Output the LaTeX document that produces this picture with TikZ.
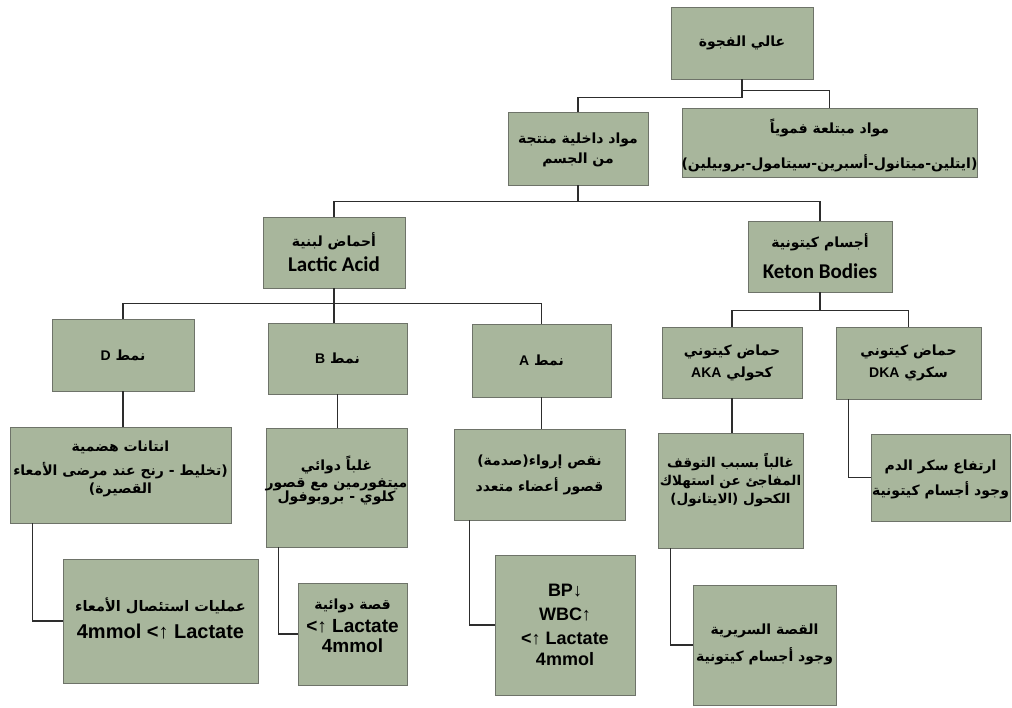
\documentclass[tikz,border=0pt]{standalone}
\usepackage{fontspec}
\setmainfont{Liberation Sans}
\newfontfamily\arabicfont[Script=Arabic]{DejaVu Sans}
\newfontfamily\calfont{Carlito}
\TeXXeTstate=1
% one right-to-left line of bold Arabic
\newcommand{\artxt}[1]{{\arabicfont\bfseries\beginR #1\endR}}
% embedded Latin run inside an Arabic line
\newcommand{\lat}[1]{\beginL{\normalfont\bfseries #1}\endL}
% bold Latin line at a given size
\newcommand{\latline}[2]{{\bfseries\fontsize{#1}{20}\selectfont #2}}
\definecolor{sage}{RGB}{168,182,156}
\definecolor{edge}{RGB}{110,115,105}
\definecolor{wire}{RGB}{45,45,45}
% box by its corner coordinates: [text options] name, x0, y0, x1, y1,
% downward text offset, text
\newcommand{\boxnode}[8][]{%
  \node[box, minimum width={#5-#3}, minimum height={#6-#4}] (#2)
    at ({(#3+#5)/2},{(#4+#6)/2}) {};
  \node[boxtext, #1] (#2-t) at ([shift={(0,#7)}]#2.center) {#8};}
\begin{document}
\begin{tikzpicture}[x=1pt, y=-1pt,
  box/.style={draw=edge, fill=sage, line width=0.7pt, inner sep=0pt},
  boxtext/.style={inner sep=0pt, align=center,
    font=\fontsize{14}{20}\selectfont},
  link/.style={draw=wire, line width=1.1pt}]
\useasboundingbox[fill=white] (0,0) rectangle (1012,707);

% level 0 and 1
\boxnode{top}{671}{7}{813}{79}{0}{\artxt{عالي الفجوة}}
\boxnode{oral}{682}{108}{977}{177}{3}{\artxt{مواد مبتلعة فموياً}\\[15pt]
  \artxt{(ايتلين-ميتانول-أسبرين-سيتامول-بروبيلين)}}
\boxnode{endo}{508}{112}{648}{185}{1}{\artxt{مواد داخلية منتجة}\\
  \artxt{من الجسم}}

% level 2
\boxnode{lactic}{263}{217}{405}{288}{0}{\artxt{أحماض لبنية}\\[5pt]
  {\calfont\bfseries\fontsize{21}{20}\selectfont Lactic Acid}}
\boxnode{keton}{748}{221}{892}{292}{0}{\artxt{أجسام كيتونية}\\[11pt]
  {\calfont\bfseries\fontsize{21}{20}\selectfont Keton Bodies}}

% level 3
\boxnode{pd}{52}{319}{194}{391}{0}{\artxt{نمط \lat{D}}}
\boxnode{pb}{268}{323}{407}{394}{0}{\artxt{نمط \lat{B}}}
\boxnode{pa}{472}{324}{611}{397}{0}{\artxt{نمط \lat{A}}}
\boxnode{aka}{662}{327}{802}{398}{0}{\artxt{حماض كيتوني}\\[2pt]
  \artxt{كحولي \lat{AKA}}}
\boxnode{dka}{836}{327}{981}{399}{0}{\artxt{حماض كيتوني}\\[2pt]
  \artxt{سكري \lat{DKA}}}

% level 4
\boxnode{dd}{10}{427}{231}{523}{-6}{\artxt{انتانات هضمية}\\[4pt]
  \artxt{(تخليط - رنح عند مرضى الأمعاء}\\[-2pt]
  \artxt{القصيرة)}}
\boxnode{bd}{266}{428}{407}{547}{-7}{\artxt{غلباً دوائي}\\[-3pt]
  \artxt{ميتفورمين مع قصور}\\[-6pt]
  \artxt{كلوي - بروبوفول}}
\boxnode{ad}{454}{429}{625}{520}{0}{\artxt{نقص إرواء(صدمة)}\\[6pt]
  \artxt{قصور أعضاء متعدد}}
\boxnode[font=\fontsize{13.5}{20}\selectfont]{akad}{658}{433}{803}{548}{-10}{%
  \artxt{غالباً بسبب التوقف}\\[-2pt]
  \artxt{المفاجئ عن استهلاك}\\[-2pt]
  \artxt{الكحول (الايتانول)}}
\boxnode{dkad}{871}{434}{1010}{521}{2}{\artxt{ارتفاع سكر الدم}\\[5pt]
  \artxt{وجود أجسام كيتونية}}

% level 5
\boxnode[font=\fontsize{14.5}{20}\selectfont]{dl}{63}{559}{258}{683}{-3}{%
  \artxt{عمليات استئصال الأمعاء}\\[7pt]
  \latline{20}{4mmol <↑ Lactate}}
\boxnode{bl}{298}{583}{407}{685}{-8}{\artxt{قصة دوائية}\\[3pt]
  \latline{19}{<↑ Lactate}\\
  \latline{19}{4mmol}}
\boxnode{al}{495}{555}{635}{695}{0}{\latline{18}{BP↓}\\[4pt]
  \latline{18}{WBC↑}\\[4pt]
  \latline{18}{<↑ Lactate}\\[1pt]
  \latline{18}{4mmol}}
\boxnode{akal}{693}{585}{836}{705}{-1}{\artxt{القصة السريرية}\\[7pt]
  \artxt{وجود أجسام كيتونية}}

% connectors
\draw[link] (top.south) -- ++(0,18) -| (endo.north);
\draw[link] (top.south) ++(0,11) -| (oral.north);
\draw[link] (endo.south) -- ++(0,16) coordinate (bar2);
\draw[link] (lactic.north) |- (bar2) -| (keton.north);
\draw[link] (lactic.south) -- ++(0,15) coordinate (bar3);
\draw[link] (pd.north) |- (bar3) -| (pa.north);
\draw[link] (bar3) -- (bar3 |- pb.north);
\draw[link] (keton.south) -- ++(0,18) coordinate (bar4);
\draw[link] (aka.north) |- (bar4) -| (dka.north);

\draw[link] (pd.south) -- (pd.south |- dd.north);
\draw[link] (pb.south) -- (pb.south |- bd.north);
\draw[link] (pa.south) -- (pa.south |- ad.north);
\draw[link] (aka.south) -- (aka.south |- akad.north);
\draw[link] ([xshift=-60pt]dka.south) |- (dkad.west);

\draw[link] ([xshift=-88pt]dd.south) |- (dl.west);
\draw[link] ([xshift=-58pt]bd.south) |- (bl.west);
\draw[link] ([xshift=-70pt]ad.south) |- (al.west);
\draw[link] ([xshift=-60pt]akad.south) |- (akal.west);
\end{tikzpicture}
\end{document}
